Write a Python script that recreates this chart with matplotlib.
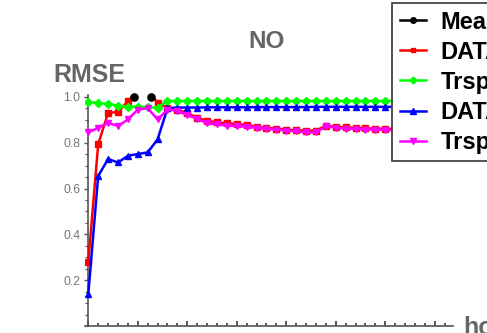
import matplotlib
matplotlib.use("Agg")
import matplotlib.pyplot as plt
import numpy as np
from matplotlib.lines import Line2D
from matplotlib.ticker import MultipleLocator

plt.rcParams['font.family'] = ['Liberation Sans', 'DejaVu Sans']

# ---- data -------------------------------------------------------------
hours = np.arange(0, 33)

dat1 = [0.279, 0.794, 0.930, 0.935, 0.981, 1.030, 1.030, 0.975, 0.952, 0.945,
        0.930, 0.910, 0.895, 0.890, 0.885, 0.882, 0.878, 0.870, 0.865, 0.862,
        0.858, 0.855, 0.853, 0.853, 0.875, 0.870, 0.868, 0.865, 0.863, 0.862,
        0.862, 0.860, 0.860]
trsp1 = [0.980, 0.973, 0.970, 0.962, 0.958, 0.958, 0.955, 0.954, 0.983, 0.983,
         0.983, 0.983, 0.983, 0.983, 0.983, 0.983, 0.983, 0.983, 0.983, 0.983,
         0.983, 0.983, 0.983, 0.983, 0.983, 0.983, 0.983, 0.983, 0.983, 0.983,
         0.983, 0.983, 0.983]
dat2 = [0.139, 0.655, 0.729, 0.714, 0.743, 0.751, 0.758, 0.815, 0.951, 0.954,
        0.954, 0.954, 0.955, 0.955, 0.955, 0.955, 0.955, 0.956, 0.956, 0.956,
        0.956, 0.956, 0.956, 0.957, 0.957, 0.957, 0.957, 0.957, 0.957, 0.957,
        0.957, 0.957, 0.957]
trsp2 = [0.845, 0.866, 0.887, 0.873, 0.902, 0.945, 0.951, 0.902, 0.945, 0.940,
         0.920, 0.905, 0.885, 0.880, 0.875, 0.873, 0.870, 0.865, 0.860, 0.858,
         0.853, 0.850, 0.845, 0.845, 0.872, 0.865, 0.862, 0.860, 0.858, 0.857,
         0.856, 0.855, 0.855]
mean_x = [4.65, 6.35]
mean_y = [1.0, 1.0]

series_labels = ["Mean", "DATA1", "Trsp1", "DATA2", "Trsp2"]
y_ticks = [0.2, 0.4, 0.6, 0.8, 1.0]
y_ticklabels = ["0.2", "0.4", "0.6", "0.8", "1.0"]

# ---- figure -----------------------------------------------------------
W, H = 487, 333
fig = plt.figure(figsize=(W / 100, H / 100), dpi=100)
ax = fig.add_axes([85 / W, 7 / H, (453 - 85) / W, (326 - 95) / H])
ax.set_xlim(-0.333, 36.84)
ax.set_ylim(0, 1.0087)

axis_col = "#555555"
for s in ("top", "right"):
    ax.spines[s].set_visible(False)
ax.spines["left"].set_position(("data", 0))
for s in ("left", "bottom"):
    ax.spines[s].set_color(axis_col)
    ax.spines[s].set_linewidth(1.2)

ax.set_yticks(y_ticks)
ax.set_yticklabels(y_ticklabels)
ax.yaxis.set_minor_locator(MultipleLocator(0.05))
ax.tick_params(axis="y", which="major", direction="out", length=3.2, width=1.0,
               color=axis_col, labelcolor="#777777", labelsize=8.8, pad=2.5)
ax.tick_params(axis="y", which="minor", direction="out", length=2.0, width=0.9,
               color=axis_col)

ax.xaxis.set_major_locator(MultipleLocator(5))
ax.xaxis.set_minor_locator(MultipleLocator(1))
ax.tick_params(axis="x", which="major", direction="in", length=3.6, width=1.4,
               color=axis_col, labelbottom=False)
ax.tick_params(axis="x", which="minor", direction="in", length=2.2, width=1.4,
               color=axis_col)

lw = 1.8
ax.plot(hours, dat1, color="#ff0000", lw=lw, marker="s", ms=3.8, zorder=3)
ax.plot(hours, trsp1, color="#00ff00", lw=lw, marker="D", ms=4.2, zorder=3)
ax.plot(hours, dat2, color="#0000ff", lw=lw, marker="^", ms=4.6, zorder=3)
ax.plot(hours, trsp2, color="#ff00ff", lw=lw, marker="v", ms=4.6, zorder=3)
ax.plot(mean_x, mean_y, color="black", ls="none", marker="o", ms=5.2,
        zorder=5, clip_on=False)

# ---- legend -----------------------------------------------------------
handles = [
    Line2D([], [], color="black", lw=lw, marker="o", ms=4),
    Line2D([], [], color="#ff0000", lw=lw, marker="s", ms=3.2),
    Line2D([], [], color="#00ff00", lw=lw, marker="D", ms=3.5),
    Line2D([], [], color="#0000ff", lw=lw, marker="^", ms=4),
    Line2D([], [], color="#ff00ff", lw=lw, marker="v", ms=4),
]
leg = fig.legend(handles, series_labels, loc="upper left",
                 bbox_to_anchor=(392 / W, 1 - 3 / H), borderaxespad=0,
                 frameon=True, fancybox=False, framealpha=1,
                 edgecolor="#444444",
                 prop={"weight": "bold", "size": 17},
                 handlelength=1.13, handletextpad=0.62, borderpad=0.32,
                 labelspacing=0.3)
leg.get_frame().set_linewidth(1.3)

# ---- titles -----------------------------------------------------------
txt = dict(color="#666666", weight="bold")
fig.text(267 / W, 1 - 48 / H, "NO", ha="center", va="baseline",
         fontsize=17.5, **txt)
fig.text(53 / W, 1 - 82 / H, "RMSE", ha="left", va="baseline",
         fontsize=18, **txt)
fig.text(463 / W, 1 - 335 / H, "hour", ha="left", va="baseline",
         fontsize=18, **txt)

fig.savefig("out.png", dpi=100)
